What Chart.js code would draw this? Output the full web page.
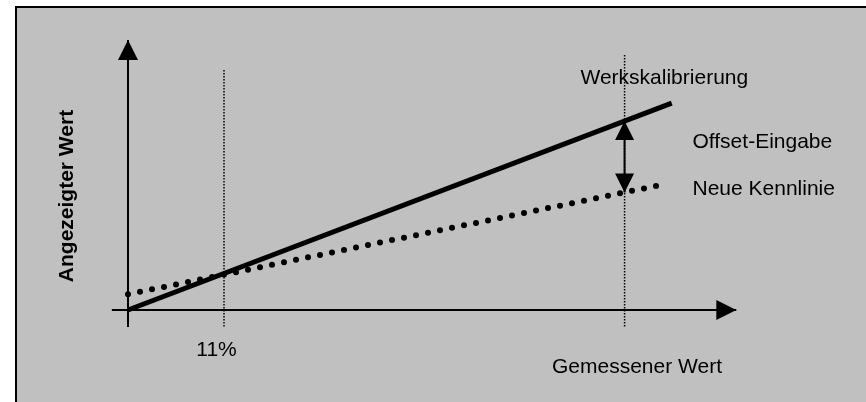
<!DOCTYPE html>
<html>
<head>
<meta charset="utf-8">
<script src="https://cdn.jsdelivr.net/npm/chart.js@4"></script>
<style>
  body { margin: 0; background: #fff; overflow: hidden; }
  #frame {
    position: absolute; left: 15px; top: 6px; width: 900px; height: 450px;
    background: #c0c0c0; border-left: 2px solid #000; border-top: 2px solid #000;
  }
  #myChart { position: absolute; left: 0; top: 0; }
</style>
</head>
<body>
<div id="frame"></div>
<canvas id="myChart" width="866" height="402"></canvas>
<script>
// values in percent of the measuring range
const factoryX = [0, 62.3];
const factoryY = [0, 23.7];
const newLineX = [0, 61.4];
const newLineY = [1.8, 14.4];
const markX = [11, 56.9];
const markTop = [27.5, 29.3];
const markBottom = -1.9;
const offsetX = 56.9;
const xAxisRange = [-1.85, 69.7];
const yAxisRange = [-1.95, 30.95];
const tickLabels = ["11%"];

const unit = 96 / 11; // px per percent
const xMin = -2, xMax = 70, yMin = -2, yMax = 31;

function pts(xs, ys) {
  return xs.map((x, i) => ({ x: x, y: ys[i] }));
}

function valueAt(xs, ys, x) {
  return ys[0] + (ys[1] - ys[0]) * (x - xs[0]) / (xs[1] - xs[0]);
}

const offsetTop = valueAt(factoryX, factoryY, offsetX);
const offsetBottom = valueAt(newLineX, newLineY, offsetX);

var datasets = [];

// dotted reference lines
for (var i = 0; i < markX.length; i++) {
  datasets.push({
    data: pts([markX[i], markX[i]], [markBottom, markTop[i]]),
    borderColor: "#000",
    borderWidth: 1.5,
    borderDash: [1.5, 1.5],
  });
}

// axes
datasets.push({
  data: pts(xAxisRange, [0, 0]),
  borderColor: "#000",
  borderWidth: 2,
});
datasets.push({
  data: pts([0, 0], yAxisRange),
  borderColor: "#000",
  borderWidth: 2,
});

// offset arrow shaft
datasets.push({
  data: pts([offsetX, offsetX], [offsetBottom, offsetTop]),
  borderColor: "#000",
  borderWidth: 2,
});

datasets.push({
  label: "Neue Kennlinie",
  data: pts(newLineX, newLineY),
  borderColor: "#000",
  borderWidth: 6,
  borderDash: [0, 12.25],
  borderCapStyle: "round",
});

datasets.push({
  label: "Werkskalibrierung",
  data: pts(factoryX, factoryY),
  borderColor: "#000",
  borderWidth: 5,
});

function triangle(ctx, tx, ty, dir, len, half) {
  // dir: unit vector pointing from base to tip
  var bx = tx - dir[0] * len, by = ty - dir[1] * len;
  ctx.beginPath();
  ctx.moveTo(tx, ty);
  ctx.lineTo(bx - dir[1] * half, by + dir[0] * half);
  ctx.lineTo(bx + dir[1] * half, by - dir[0] * half);
  ctx.closePath();
  ctx.fill();
}

const annotations = {
  id: "annotations",
  afterDatasetsDraw(chart) {
    const ctx = chart.ctx;
    const sx = chart.scales.x, sy = chart.scales.y;
    ctx.save();
    ctx.fillStyle = "#000";

    // axis arrow heads
    triangle(ctx, sx.getPixelForValue(xAxisRange[1]), sy.getPixelForValue(0), [1, 0], 20, 10);
    triangle(ctx, sx.getPixelForValue(0), sy.getPixelForValue(yAxisRange[1]), [0, -1], 20, 10);

    // offset arrow heads
    var ox = sx.getPixelForValue(offsetX);
    triangle(ctx, ox, sy.getPixelForValue(offsetTop), [0, -1], 19, 9.5);
    triangle(ctx, ox, sy.getPixelForValue(offsetBottom), [0, 1], 19, 9.5);

    ctx.font = '21px "Liberation Sans", Arial, sans-serif';
    ctx.textBaseline = "alphabetic";
    ctx.textAlign = "left";
    ctx.fillText("Werkskalibrierung", 580.5, 83.5);
    ctx.fillText("Offset-Eingabe", 692.5, 147.5);
    ctx.fillText("Neue Kennlinie", 692.5, 195);

    ctx.textAlign = "center";
    ctx.fillText(tickLabels[0], sx.getPixelForValue(11) - 7.5, 356);
    ctx.textAlign = "right";
    ctx.fillText("Gemessener Wert", 722, 372.5);

    ctx.font = 'bold 21px "Liberation Sans", Arial, sans-serif';
    ctx.translate(72.5, 196);
    ctx.rotate(-Math.PI / 2);
    ctx.textAlign = "center";
    ctx.fillText("Angezeigter Wert", 0, 0);
    ctx.restore();
  },
};

new Chart(document.getElementById("myChart"), {
  type: "scatter",
  data: { datasets: datasets },
  options: {
    responsive: false,
    animation: false,
    showLine: true,
    layout: {
      padding: {
        left: 128 + xMin * unit,
        right: 866 - (128 + xMax * unit),
        top: 310 - yMax * unit,
        bottom: 402 - (310 - yMin * unit),
      },
    },
    elements: { point: { radius: 0 }, line: { tension: 0 } },
    scales: {
      x: { type: "linear", min: xMin, max: xMax, display: false },
      y: { type: "linear", min: yMin, max: yMax, display: false },
    },
    plugins: { legend: { display: false }, tooltip: { enabled: false } },
  },
  plugins: [annotations],
});
</script>
</body>
</html>
